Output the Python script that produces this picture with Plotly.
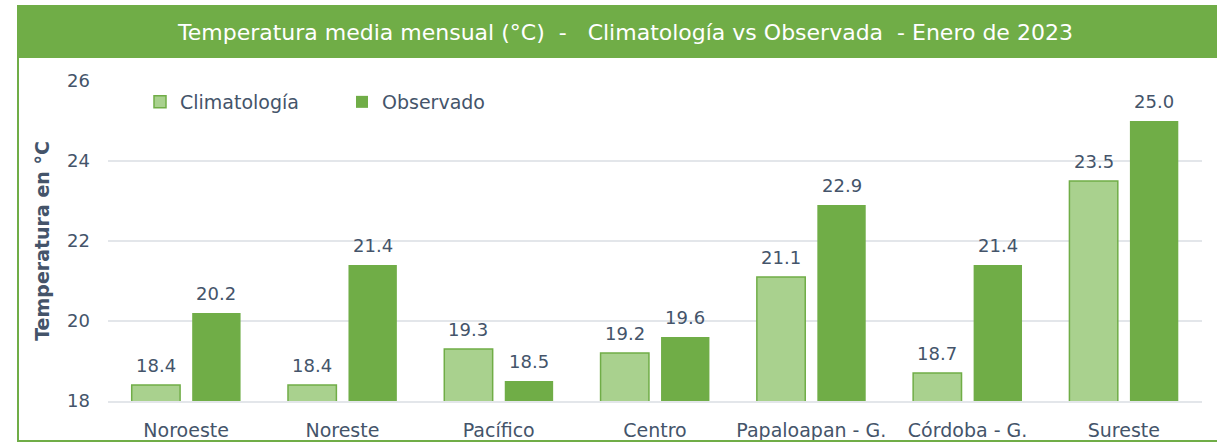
import plotly.graph_objects as go

categories = ["Noroeste", "Noreste", "Pacífico", "Centro", "Papaloapan - G.", "Córdoba - G.", "Sureste"]
climatologia = [18.4, 18.4, 19.3, 19.2, 21.1, 18.7, 23.5]
observado = [20.2, 21.4, 18.5, 19.6, 22.9, 21.4, 25.0]
y_ticks = [18, 20, 22, 24, 26]

W, H = 1217, 445
L, R, T, B = 108, 15, 81, 44
pw, ph = W - L - R, H - T - B

def px(x):
    return (x - L) / pw

def py(y):
    return (H - B - y) / ph

GREEN = "#70ad47"
LIGHT = "#a9d18e"
TXT = "#44546a"
FONT = "DejaVu Sans"

BARGAP, GROUPGAP = 0.226, 0.2
slot = pw / len(categories) * (1 - BARGAP) / 2  # pixel width of one series slot

fig = go.Figure()
fig.add_trace(go.Bar(
    name="Climatología", x=categories, y=climatologia,
    marker=dict(color=LIGHT, line=dict(color=GREEN, width=1.5)),
))
fig.add_trace(go.Bar(
    name="Observado", x=categories, y=observado,
    marker=dict(color=GREEN, line=dict(width=0)),
))

annotations = [dict(text="Temperatura media mensual (°C)  -   Climatología vs Observada  - Enero de 2023",
                    xref="paper", yref="paper", x=px(625), y=py(32), xanchor="center", yanchor="middle",
                    showarrow=False, font=dict(size=22, color="white", family=FONT))]
for series, shift in ((climatologia, -slot / 2), (observado, slot / 2)):
    for c, v in zip(categories, series):
        annotations.append(dict(x=c, y=v, xref="x", yref="y", text=f"{v:.1f}", showarrow=False,
                                xanchor="center", yanchor="bottom", xshift=shift, yshift=7,
                                font=dict(size=18, color=TXT, family=FONT)))

shapes = [
    dict(type="rect", xref="paper", yref="paper", x0=px(17), x1=px(1217), y0=py(58), y1=py(5),
         fillcolor=GREEN, line=dict(width=0), layer="below"),
    dict(type="line", xref="paper", yref="paper", x0=px(18), x1=px(18), y0=py(58), y1=py(441),
         line=dict(color=GREEN, width=2)),
    dict(type="line", xref="paper", yref="paper", x0=px(17), x1=px(1217), y0=py(441), y1=py(441),
         line=dict(color=GREEN, width=2)),
]

fig.update_layout(
    width=W, height=H,
    margin=dict(l=L, r=R, t=T, b=B, autoexpand=False),
    paper_bgcolor="white", plot_bgcolor="white",
    barmode="group", bargap=BARGAP, bargroupgap=GROUPGAP,
    font=dict(family=FONT, color=TXT, size=18),
    shapes=shapes,
    annotations=annotations,
    showlegend=True,
    legend=dict(orientation="h", x=px(140), y=py(102), xanchor="left", yanchor="middle",
                font=dict(size=19, color=TXT, family=FONT), bgcolor="rgba(0,0,0,0)",
                entrywidth=157, entrywidthmode="pixels", itemclick=False),
)
fig.update_yaxes(range=[18, 26], tickvals=y_ticks, showgrid=True, gridcolor="#e3e6ea", gridwidth=1.5,
                 zeroline=False, showline=False, tickfont=dict(size=18, color=TXT),
                 ticklabelstandoff=17, automargin=False,
                 title=dict(text="<b>Temperatura en °C</b>", font=dict(size=19, color=TXT), standoff=12))
fig.update_xaxes(showline=True, linecolor="#e3e6ea", linewidth=1.5, tickfont=dict(size=19, color=TXT),
                 ticklabelstandoff=11, automargin=False)

fig.write_html("out.html", config={"displayModeBar": False},
               post_script="document.body.style.margin='0';document.body.style.padding='0';")
